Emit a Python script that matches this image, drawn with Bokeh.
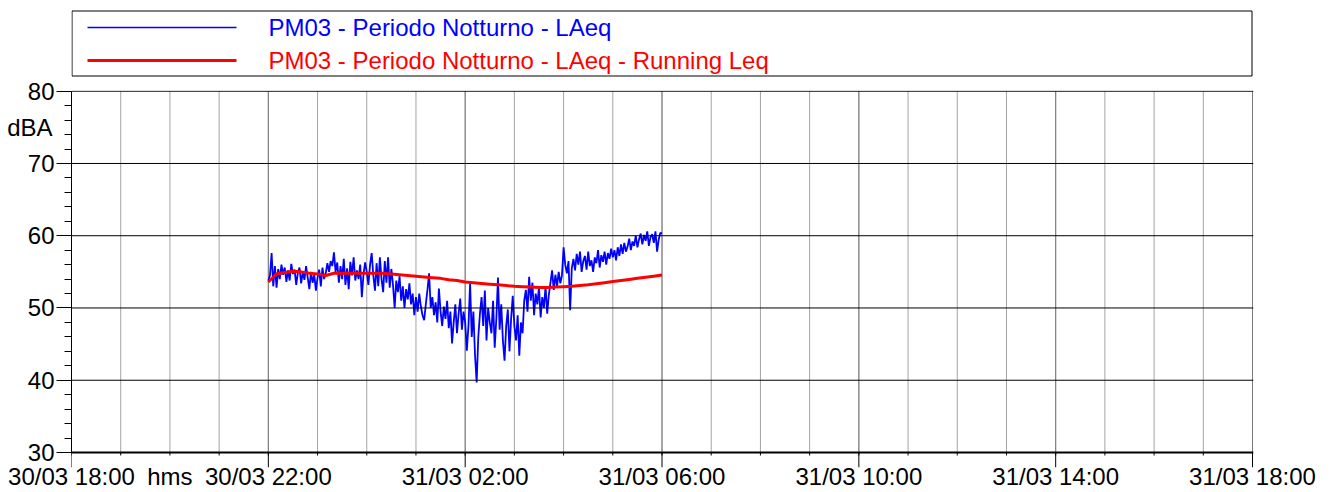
from bokeh.plotting import figure
from bokeh.layouts import column
from bokeh.models import FixedTicker, LinearAxis, Range1d, Span
from bokeh.embed import file_html
from bokeh.resources import INLINE
from bokeh.core.properties import value

FONT = "Liberation Sans"
FS = "24px"

# ---- axis definitions (hours since 30/03 18:00) ----
x_tick_hours = [0, 4, 8, 12, 16, 20, 24]
x_tick_labels = ["30/03 18:00", "30/03 22:00", "31/03 02:00", "31/03 06:00",
                 "31/03 10:00", "31/03 14:00", "31/03 18:00"]
x_minor_hours = list(range(0, 25))
x_unit_hour = 2
x_unit_label = "hms"
y_ticks = [30, 40, 50, 60, 70, 80]
y_minor = list(range(30, 81, 2))
y_unit_pos = 75
y_unit_label = "dBA"

name_blue = "PM03 - Periodo Notturno - LAeq"
name_red = "PM03 - Periodo Notturno - LAeq - Running Leq"

# ---- data ----
start_hour = 4.0          # 30/03 22:00
laeq_step_min = 2
laeq_h22 = [53.8, 54.5, 57.6, 53.0, 55.8, 52.8, 55.4, 54.0, 56.0, 54.6, 55.6, 53.6, 55.2, 53.8, 56.1,
            54.7, 55.3, 53.2, 54.9, 55.6, 53.4, 55.0, 53.9, 55.8, 54.2, 52.6, 55.0, 53.5, 54.6, 52.4]
laeq_h23 = [54.2, 55.3, 53.0, 55.6, 54.0, 54.8, 56.2, 55.0, 56.5, 55.8, 57.7, 55.0, 56.3, 53.5, 55.8,
            54.0, 56.8, 53.2, 55.5, 52.6, 56.4, 54.5, 57.0, 53.8, 55.2, 54.0, 56.0, 51.5, 54.6, 56.3]
laeq_h00 = [55.0, 53.2, 56.0, 57.6, 54.5, 52.4, 56.2, 53.0, 57.0, 54.0, 52.2, 56.5, 53.5, 57.0, 52.8,
            55.4, 53.2, 50.0, 53.8, 52.2, 54.4, 51.0, 53.0, 50.0, 52.6, 51.2, 53.4, 50.5, 52.0, 49.0]
laeq_h01 = [51.5, 49.5, 52.0, 50.2, 49.0, 48.3, 50.5, 52.5, 54.8, 50.0, 51.5, 49.0, 50.8, 48.0, 52.7,
            49.5, 47.5, 50.2, 48.5, 51.0, 47.2, 49.5, 45.1, 48.0, 50.5, 46.5, 49.2, 51.3, 47.0, 49.5]
laeq_h02 = [48.0, 44.1, 47.5, 53.4, 46.0, 49.5, 43.5, 39.7, 46.0, 49.2, 51.5, 47.5, 52.4, 45.5, 50.0,
            48.0, 46.5, 51.0, 44.5, 48.5, 54.2, 47.0, 50.5, 45.5, 42.7, 47.5, 49.8, 44.0, 48.5, 51.7]
laeq_h03 = [47.5, 45.5, 49.0, 43.4, 48.0, 46.5, 51.0, 52.5, 49.5, 54.3, 51.0, 53.5, 49.0, 52.0, 50.5,
            52.9, 48.7, 51.5, 50.0, 53.0, 49.2, 51.8, 53.5, 55.2, 52.5, 54.6, 53.0, 55.0, 53.4, 54.5]
laeq_h04 = [58.4, 56.0, 54.8, 56.5, 49.7, 55.5, 56.8, 55.2, 57.5, 56.0, 57.8, 55.0, 56.5, 57.2, 55.3,
            57.8, 55.8, 56.6, 55.0, 57.0, 56.2, 58.0, 55.6, 57.3, 56.4, 57.8, 56.0, 57.6, 56.8, 58.2]
laeq_h05 = [57.0, 58.0, 56.6, 58.4, 57.2, 58.8, 57.5, 59.0, 57.8, 58.5, 59.6, 58.0, 59.2, 58.6, 60.0,
            58.4, 59.5, 60.3, 58.8, 60.1, 59.3, 60.6, 58.6, 59.8, 60.2, 59.0, 60.6, 57.8, 59.5, 60.4]
laeq_h06 = [60.3]

running_step_min = 10
running_leq = [53.6, 54.7, 54.9, 55.1, 55.0, 54.8, 54.7, 54.5, 54.8, 54.8, 54.8, 54.8, 54.8,
               54.8, 54.8, 54.7, 54.6, 54.5, 54.4, 54.3, 54.2, 54.1, 53.9, 53.8, 53.6, 53.5,
               53.4, 53.3, 53.2, 53.1, 53.0, 52.95, 52.9, 52.85, 52.85, 52.9, 52.95, 53.0,
               53.1, 53.2, 53.35, 53.5, 53.65, 53.8, 53.95, 54.1, 54.25, 54.4, 54.55]

laeq = laeq_h22 + laeq_h23 + laeq_h00 + laeq_h01 + laeq_h02 + laeq_h03 + laeq_h04 + laeq_h05 + laeq_h06
laeq_t = [start_hour + i * laeq_step_min / 60.0 for i in range(len(laeq))]
run_t = [start_hour + i * running_step_min / 60.0 for i in range(len(running_leq))]

# ---- layout constants (pixels) ----
W = 1330
BORDER_L = 71
BORDER_R = 77
PX_PER_DB = 7.22
Y_LOW = y_ticks[0] - 15 / PX_PER_DB      # room below the axis for the long ticks
Y_HIGH = y_ticks[-1] + 0.1
MINOR_TICK_DB = 3 / PX_PER_DB

# ---- legend panel (drawn as its own small figure, page coordinates) ----
leg = figure(width=W, height=78, x_range=Range1d(BORDER_L, W - BORDER_R), y_range=Range1d(78, 0),
             output_backend="svg", toolbar_location=None, min_border=0,
             min_border_left=BORDER_L, min_border_right=BORDER_R,
             x_axis_location=None, y_axis_location=None, outline_line_color=None)
leg.grid.visible = False
leg.quad(left=71.5, right=1251.5, top=10.5, bottom=75.5, fill_color=None, line_color="black", line_width=1)
leg.segment(x0=87, x1=236, y0=27, y1=27, line_color="#0000ff", line_width=1.5)
leg.segment(x0=87, x1=236, y0=60, y1=60, line_color="#ff0000", line_width=3)
leg.text(x=[268], y=[27], text=[name_blue], text_color="#0000ff", text_font=value(FONT),
         text_font_size=FS, text_baseline="middle", text_align="left")
leg.text(x=[268], y=[60], text=[name_red], text_color="#ff0000", text_font=value(FONT),
         text_font_size=FS, text_baseline="middle", text_align="left")

# ---- main chart ----
p = figure(width=W, height=414, x_range=Range1d(0, 24.02), y_range=Range1d(Y_LOW, Y_HIGH),
           output_backend="svg", toolbar_location=None,
           min_border_left=BORDER_L, min_border_right=BORDER_R, min_border_top=12, min_border_bottom=25,
           outline_line_color=None)
p.grid.visible = False

# x axis: labels only (ticks and axis line are drawn as glyphs inside the frame)
x_label_hours = sorted(x_tick_hours + [x_unit_hour])
x_label_map = {h: lab for h, lab in zip(x_tick_hours, x_tick_labels)}
x_label_map[x_unit_hour] = x_unit_label
p.xaxis.ticker = FixedTicker(ticks=x_label_hours, minor_ticks=[])
p.xaxis.major_label_overrides = x_label_map
p.xaxis.axis_line_color = None
p.xaxis.major_tick_line_color = None
p.xaxis.minor_tick_line_color = None
p.xaxis.major_tick_out = 0
p.xaxis.major_tick_in = 0
p.xaxis.minor_tick_out = 0
p.xaxis.minor_tick_in = 0
p.xaxis.major_label_standoff = -5
p.xaxis.major_label_text_font = FONT
p.xaxis.major_label_text_font_size = FS
p.xaxis.major_label_text_color = "black"

# y axis
ya = p.yaxis[0]
ya.ticker = FixedTicker(ticks=y_ticks, minor_ticks=y_minor)
ya.bounds = (y_ticks[0], y_ticks[-1])
ya.axis_line_color = "black"
ya.major_tick_line_color = "black"
ya.minor_tick_line_color = "black"
ya.major_tick_in = 0
ya.minor_tick_in = 0
ya.major_tick_out = 15
ya.minor_tick_out = 7
ya.major_label_standoff = 2
ya.major_label_text_font = FONT
ya.major_label_text_font_size = FS
ya.major_label_text_color = "black"

# unit label on the y side
yu = LinearAxis(ticker=FixedTicker(ticks=[y_unit_pos], minor_ticks=[]),
                major_label_overrides={y_unit_pos: y_unit_label},
                axis_line_color=None, major_tick_line_color=None, minor_tick_line_color=None,
                major_tick_out=0, major_tick_in=0, minor_tick_out=0, minor_tick_in=0,
                major_label_standoff=-28, major_label_text_font=FONT,
                major_label_text_font_size=FS, major_label_text_color="black")
p.add_layout(yu, "left")

# vertical grid (hourly light, 4-hourly darker), drawn from 30 to 80 dB
p.segment(x0=x_minor_hours, x1=x_minor_hours, y0=[y_ticks[0]] * len(x_minor_hours),
          y1=[y_ticks[-1]] * len(x_minor_hours), line_color="#a4a4a4", line_width=1)
p.segment(x0=x_tick_hours, x1=x_tick_hours, y0=[y_ticks[0]] * len(x_tick_hours),
          y1=[y_ticks[-1]] * len(x_tick_hours), line_color="#7a7a7a", line_width=1)
# horizontal grid
for yv in y_ticks[1:]:
    p.add_layout(Span(location=yv, dimension="width", line_color="black", line_width=1))
# x ticks below the axis
p.segment(x0=x_minor_hours, x1=x_minor_hours, y0=[y_ticks[0]] * len(x_minor_hours),
          y1=[y_ticks[0] - MINOR_TICK_DB] * len(x_minor_hours), line_color="black", line_width=1)
p.segment(x0=x_tick_hours, x1=x_tick_hours, y0=[y_ticks[0]] * len(x_tick_hours),
          y1=[Y_LOW] * len(x_tick_hours), line_color="black", line_width=1)
# x axis line
p.segment(x0=[0], x1=[24.02], y0=[y_ticks[0]], y1=[y_ticks[0]], line_color="black", line_width=2)

# data
p.line(laeq_t, laeq, line_color="#0000ff", line_width=1.8)
p.line(run_t, running_leq, line_color="#ff0000", line_width=3)

layout = column(leg, p, spacing=0)
open("out.html", "w").write(file_html(layout, INLINE))
